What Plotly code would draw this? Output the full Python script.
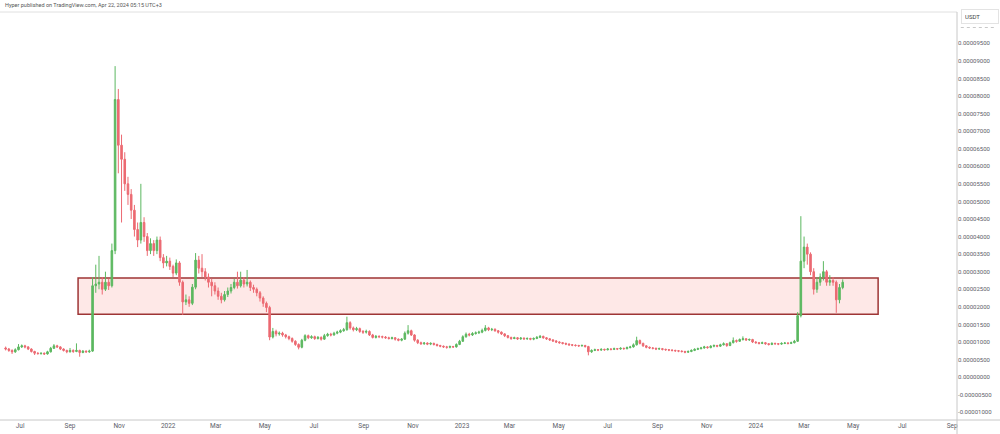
import pandas as pd
import plotly.graph_objects as go

# SHIB/USDT, 4-day candles, prices in millionths of USDT
first_open = 8.3
close = [
    8.0, 7.6, 7.2, 7.8, 8.6, 8.9, 8.6, 8.0, 7.3, 6.8,
    6.7, 6.8, 6.6, 7.2, 8.2, 8.9, 8.6, 8.0, 7.6, 7.2,
    7.6, 7.3, 7.6, 7.0, 7.4, 7.2, 7.4, 26.0, 26.5, 27.0,
    25.0, 27.0, 26.0, 36.0, 79.0, 66.0, 62.0, 55.0, 52.0, 47.5,
    42.0, 39.0, 44.0, 40.0, 36.0, 38.0, 36.0, 39.0, 34.0, 32.5,
    33.0, 31.5, 29.6, 32.5, 27.0, 21.4, 22.0, 21.0, 25.6, 33.3,
    31.0, 30.0, 28.5, 27.0, 26.0, 24.5, 23.0, 22.0, 23.5, 24.5,
    25.5, 27.0, 26.0, 27.6, 26.5, 27.0, 25.5, 25.0, 24.0, 22.5,
    21.0, 19.8, 11.4, 13.0, 12.3, 12.5, 12.0, 11.5, 11.0, 10.2,
    9.3, 8.5, 10.5, 11.8, 11.2, 11.5, 11.0, 11.3, 10.8, 11.8,
    12.2, 12.0, 12.5, 12.8, 13.2, 13.5, 15.5, 14.0, 13.5, 13.8,
    13.0, 12.8, 13.0, 12.0, 11.3, 11.6, 11.5, 11.4, 11.2, 11.0,
    11.2, 10.8, 10.5, 10.8, 12.5, 13.2, 12.0, 10.5, 9.8, 9.5,
    9.7, 9.4, 9.6, 9.3, 9.0, 8.8, 8.6, 8.5, 8.7, 8.6,
    9.3, 10.2, 11.5, 12.2, 12.0, 12.4, 12.6, 12.8, 13.3, 14.0,
    13.5, 13.6, 13.2, 12.8, 12.3, 11.8, 11.3, 11.0, 11.2, 10.9,
    11.1, 10.9, 11.0, 10.8, 11.0, 11.3, 11.6, 11.2, 10.9, 10.6,
    10.3, 10.0, 9.8, 9.6, 9.4, 9.2, 9.1, 9.0, 8.9, 9.0,
    8.7, 7.2, 7.6, 7.8, 7.7, 7.9, 7.8, 8.0, 7.9, 8.1,
    8.0, 8.2, 8.1, 8.4, 8.6, 9.2, 10.4, 9.6, 8.9, 8.5,
    8.3, 8.2, 8.0, 8.1, 7.9, 7.8, 7.7, 7.6, 7.5, 7.4,
    7.3, 7.1, 7.3, 7.6, 7.9, 8.1, 8.3, 8.6, 8.4, 8.8,
    9.0, 8.8, 9.2, 9.5, 9.0, 9.8, 10.4, 10.2, 10.7, 10.9,
    10.6, 10.7, 10.0, 9.8, 9.6, 9.8, 9.5, 9.3, 9.6, 9.5,
    9.4, 9.6, 9.7, 9.6, 9.8, 10.2, 17.5, 33.0, 37.0, 35.0,
    30.0, 25.0, 27.0, 28.5, 30.0, 27.0, 27.5, 27.0, 22.0, 25.5,
    27.0,
]
high = [
    8.7, 8.3, 7.9, 8.2, 9.4, 9.3, 9.2, 8.8, 8.2, 7.5,
    7.1, 7.0, 7.0, 7.5, 8.6, 9.4, 9.2, 8.8, 8.2, 7.8,
    8.3, 7.9, 9.6, 7.8, 7.7, 7.6, 7.8, 28.5, 32.0, 34.5,
    28.5, 30.0, 28.0, 38.0, 88.5, 82.0, 69.0, 64.0, 57.0, 53.5,
    49.0, 44.0, 55.0, 45.5, 41.0, 39.5, 39.0, 40.0, 40.0, 35.0,
    34.5, 34.0, 32.0, 33.5, 33.0, 27.5, 23.5, 23.0, 26.5, 35.3,
    34.5, 35.0, 31.0, 29.5, 28.0, 27.0, 25.5, 24.0, 24.5, 25.5,
    26.5, 28.0, 30.0, 30.0, 28.5, 30.5, 27.5, 26.3, 25.5, 24.5,
    23.0, 21.5, 20.3, 14.0, 13.5, 13.0, 12.9, 12.3, 11.8, 11.3,
    10.5, 9.6, 10.9, 12.2, 12.1, 11.9, 11.8, 11.7, 11.6, 12.3,
    12.6, 12.6, 12.9, 13.2, 13.6, 14.0, 17.2, 15.9, 14.4, 14.3,
    14.1, 13.4, 13.5, 13.3, 12.3, 12.0, 11.9, 11.8, 11.7, 11.5,
    11.5, 11.4, 11.0, 11.1, 13.0, 14.8, 13.5, 12.2, 10.8, 10.1,
    10.0, 9.9, 9.9, 9.8, 9.5, 9.2, 9.0, 8.9, 9.0, 8.9,
    9.6, 10.6, 11.9, 12.7, 12.6, 12.8, 13.0, 13.2, 13.8, 14.8,
    14.3, 14.0, 13.9, 13.4, 13.0, 12.5, 12.0, 11.5, 11.5, 11.4,
    11.4, 11.3, 11.3, 11.2, 11.3, 11.7, 12.0, 11.8, 11.4, 11.1,
    10.8, 10.5, 10.2, 10.0, 9.8, 9.6, 9.4, 9.3, 9.2, 9.3,
    9.2, 8.9, 7.9, 8.1, 8.0, 8.2, 8.1, 8.3, 8.2, 8.4,
    8.3, 8.5, 8.4, 8.7, 8.9, 9.6, 11.5, 10.7, 9.8, 9.1,
    8.7, 8.5, 8.4, 8.4, 8.3, 8.1, 8.0, 7.9, 7.8, 7.7,
    7.6, 7.5, 7.6, 7.9, 8.2, 8.4, 8.6, 8.9, 8.8, 9.1,
    9.3, 9.2, 9.5, 9.9, 9.7, 10.1, 11.3, 10.7, 11.0, 11.6,
    11.1, 11.0, 10.9, 10.2, 10.0, 10.1, 10.0, 9.7, 9.9, 9.8,
    9.7, 9.9, 10.0, 9.9, 10.1, 10.6, 18.5, 45.8, 40.0, 38.0,
    35.5, 31.0, 28.5, 29.5, 33.0, 30.5, 29.0, 28.5, 27.5, 26.5,
    27.8,
]
low = [
    7.6, 7.2, 6.6, 6.9, 7.6, 8.3, 8.2, 7.7, 7.0, 6.3,
    6.4, 6.4, 6.3, 6.4, 7.0, 8.0, 8.3, 7.7, 7.3, 6.8,
    7.0, 6.9, 7.1, 5.8, 6.8, 6.9, 6.9, 7.2, 24.0, 25.0,
    23.5, 24.5, 24.8, 25.5, 35.0, 58.0, 44.0, 53.0, 49.0, 45.0,
    40.0, 37.0, 38.0, 38.5, 34.5, 35.0, 34.5, 35.0, 33.0, 31.0,
    31.5, 30.5, 28.5, 29.0, 26.0, 17.7, 20.5, 20.0, 20.5, 25.0,
    29.5, 28.5, 27.5, 25.5, 23.0, 23.5, 22.0, 21.0, 21.5, 22.8,
    23.8, 25.0, 25.2, 25.5, 25.5, 25.8, 24.5, 24.0, 23.0, 21.5,
    20.0, 18.5, 10.5, 11.0, 11.6, 11.8, 11.5, 11.0, 10.5, 9.8,
    8.9, 7.9, 8.2, 10.2, 10.8, 10.9, 10.6, 10.7, 10.4, 10.6,
    11.5, 11.6, 11.8, 12.2, 12.5, 12.9, 13.2, 13.5, 13.0, 13.1,
    12.6, 12.3, 12.4, 11.7, 11.0, 11.0, 11.1, 11.0, 10.9, 10.7,
    10.7, 10.4, 10.2, 10.2, 10.6, 12.1, 11.7, 10.1, 9.4, 9.2,
    9.2, 9.1, 9.1, 9.0, 8.7, 8.5, 8.3, 8.1, 8.2, 8.3,
    8.4, 9.1, 10.0, 11.2, 11.6, 11.7, 12.1, 12.3, 12.5, 13.0,
    13.1, 13.1, 12.9, 12.4, 12.0, 11.4, 11.0, 10.6, 10.8, 10.6,
    10.6, 10.6, 10.6, 10.5, 10.5, 10.8, 11.1, 10.9, 10.6, 10.3,
    10.0, 9.7, 9.5, 9.3, 9.1, 8.9, 8.8, 8.7, 8.6, 8.7,
    8.4, 6.2, 6.9, 7.4, 7.4, 7.5, 7.5, 7.6, 7.6, 7.7,
    7.7, 7.8, 7.8, 7.9, 8.2, 8.4, 9.0, 9.3, 8.6, 8.2,
    8.0, 7.9, 7.7, 7.8, 7.6, 7.5, 7.4, 7.3, 7.2, 7.1,
    7.0, 6.8, 6.9, 7.1, 7.4, 7.7, 7.9, 8.1, 8.1, 8.2,
    8.5, 8.5, 8.6, 9.0, 8.6, 8.8, 9.6, 9.8, 10.0, 10.4,
    10.3, 10.3, 9.7, 9.5, 9.3, 9.4, 9.2, 9.0, 9.1, 9.2,
    9.1, 9.2, 9.4, 9.3, 9.4, 9.6, 10.0, 17.0, 31.0, 32.0,
    29.0, 23.5, 24.0, 26.0, 27.5, 26.0, 26.0, 26.0, 18.3, 21.0,
    25.0,
]
open_ = [first_open] + close[:-1]
dates = pd.date_range("2021-06-13", periods=len(close), freq="4D")
scale = 1e-6

# support / resistance zone
zone_start, zone_end = "2021-09-11", "2024-06-01"
zone_low, zone_high = 17.9, 28.2

# axis ticks
x_tick_dates = ["2021-07-01", "2021-09-01", "2021-11-01", "2022-01-01", "2022-03-01",
                "2022-05-01", "2022-07-01", "2022-09-01", "2022-11-01", "2023-01-01",
                "2023-03-01", "2023-05-01", "2023-07-01", "2023-09-01", "2023-11-01",
                "2024-01-01", "2024-03-01", "2024-05-01", "2024-07-01", "2024-09-01"]
x_tick_labels = ["Jul", "Sep", "Nov", "2022", "Mar", "May", "Jul", "Sep", "Nov", "2023",
                 "Mar", "May", "Jul", "Sep", "Nov", "2024", "Mar", "May", "Jul", "Sep"]
y_tick_values = [v * 5 for v in range(-2, 20)]
y_tick_labels = [f"{v * scale:.8f}" for v in y_tick_values]

up_color = "#5cb860"
down_color = "#ec6a72"
text_color = "#5d6069"
font = "Roboto"

fig = go.Figure(
    go.Candlestick(
        x=dates,
        open=[v * scale for v in open_],
        high=[v * scale for v in high],
        low=[v * scale for v in low],
        close=[v * scale for v in close],
        increasing=dict(line=dict(color=up_color, width=1), fillcolor=up_color),
        decreasing=dict(line=dict(color=down_color, width=1), fillcolor=down_color),
        whiskerwidth=0,
        showlegend=False,
    )
)

# pink zone
fig.add_shape(
    type="rect",
    x0=zone_start, x1=zone_end,
    y0=zone_low * scale, y1=zone_high * scale,
    line=dict(color="#9e3535", width=1.5),
    fillcolor="rgba(244, 67, 54, 0.12)",
    layer="below",
)

# frame lines
fig.add_shape(type="line", xref="paper", yref="paper", x0=0, x1=1, y0=1, y1=1,
              line=dict(color="#e0e0e0", width=1))
fig.add_shape(type="line", xref="paper", yref="paper", x0=0, x1=1.045, y0=0, y1=0,
              line=dict(color="#c8c8c8", width=1))
fig.add_shape(type="line", xref="paper", yref="paper", x0=1, x1=1, y0=-0.04, y1=1,
              line=dict(color="#c8c8c8", width=1))
fig.add_shape(type="line", xref="paper", yref="paper", x0=1.004, x1=1.04, y0=0.962, y1=0.962,
              line=dict(color="#c8c8c8", width=1, dash="dot"))

fig.add_annotation(
    text="Hyper published on TradingView.com, Apr 22, 2024 05:15 UTC+3",
    xref="paper", yref="paper", x=0.003, y=1.017,
    xanchor="left", yanchor="middle", showarrow=False,
    font=dict(family=font, size=5.5, color="#555555"),
)
fig.add_annotation(
    text="USDT",
    xref="paper", yref="paper", x=1.004, y=0.99,
    xanchor="left", yanchor="middle", showarrow=False,
    font=dict(family=font, size=6, color="#444444"),
    bordercolor="#e3e3e3", borderwidth=1, borderpad=3,
    width=30, align="left",
)

fig.update_layout(
    width=1000,
    height=434,
    margin=dict(l=0, r=43, t=12, b=14),
    paper_bgcolor="white",
    plot_bgcolor="white",
    font=dict(family=font, size=6.5, color=text_color),
    xaxis=dict(
        range=["2021-06-06", "2024-09-07"],
        rangeslider=dict(visible=False),
        showgrid=False,
        zeroline=False,
        showline=False,
        tickvals=x_tick_dates,
        ticktext=x_tick_labels,
        tickfont=dict(size=6.5, color=text_color),
        ticks="",
    ),
    yaxis=dict(
        side="right",
        range=[-12.2 * scale, 103.9 * scale],
        showgrid=False,
        zeroline=False,
        showline=False,
        tickvals=[v * scale for v in y_tick_values],
        ticktext=y_tick_labels,
        tickfont=dict(size=6, color=text_color),
        ticks="",
    ),
)

# the page body has a default margin; drop it so the figure sits at the corner
fig.write_html(
    "out.html",
    config={"displayModeBar": False},
    post_script="document.body.style.margin = '0';",
)
